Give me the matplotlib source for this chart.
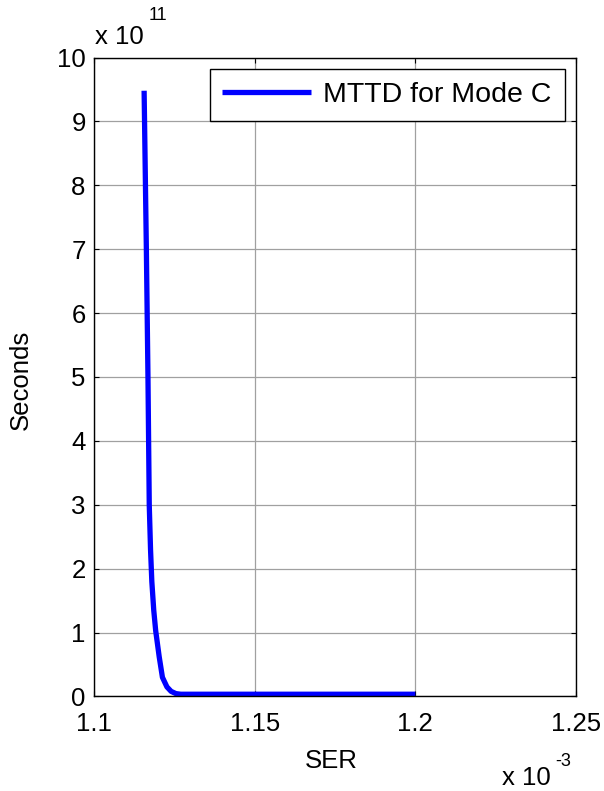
import matplotlib
matplotlib.use("Agg")
import matplotlib.pyplot as plt

# SER in units of 1e-3, MTTD in units of 1e11 seconds
ser = [1.1156, 1.1163, 1.1168, 1.1172, 1.1176, 1.1180, 1.1186, 1.1192,
       1.1203, 1.1213, 1.1227, 1.1240, 1.1255, 1.1270, 1.1300, 1.1500,
       1.1800, 1.2000]
mttd = [9.48, 7.0, 5.0, 3.0, 2.3, 1.8, 1.35, 1.03,
        0.62, 0.30, 0.15, 0.08, 0.045, 0.035, 0.035, 0.035,
        0.035, 0.035]

x_ticks = [1.1, 1.15, 1.2, 1.25]
x_tick_labels = ["1.1", "1.15", "1.2", "1.25"]
y_ticks = list(range(0, 11))
y_tick_labels = [str(v) for v in y_ticks]

plt.rcParams["font.family"] = ["Liberation Sans", "DejaVu Sans"]
FS = 18.5

fig = plt.figure(figsize=(6.04, 7.91), dpi=100)
ax = fig.add_axes([0.1556, 0.1195, 0.798, 0.8078])

ax.plot(ser, mttd, color="#0000ff", lw=3.8, label="MTTD for Mode C",
        solid_capstyle="butt", solid_joinstyle="round")

ax.set_xlim(1.1, 1.25)
ax.set_ylim(0, 10)
ax.set_xticks(x_ticks)
ax.set_xticklabels(x_tick_labels)
ax.set_yticks(y_ticks)
ax.set_yticklabels(y_tick_labels)
ax.grid(True, color="#a0a0a0", lw=0.9)
ax.set_axisbelow(True)
ax.tick_params(direction="in", length=3.5, width=0.8, top=True, right=True,
               labelsize=FS, colors="black")
ax.tick_params(axis="x", pad=11)
ax.tick_params(axis="y", pad=6)
for s in ax.spines.values():
    s.set_linewidth(1.0)
    s.set_color("black")

leg = ax.legend(loc="upper right", fontsize=20.5, fancybox=False,
                framealpha=1, edgecolor="black", handlelength=3.1,
                borderaxespad=0.4, borderpad=0.45, handletextpad=0.45)
leg.get_frame().set_linewidth(1.0)

fig.text(21 / 604, 1 - 380 / 791, "Seconds", rotation=90, fontsize=FS,
         ha="center", va="center")
fig.text(331 / 604, 1 - 761 / 791, "SER", fontsize=FS,
         ha="center", va="center")

# exponent annotations, MATLAB style
fig.text(95 / 604, 1 - 37 / 791, "x 10", fontsize=FS, ha="left", va="center")
fig.text(149 / 604, 1 - 15 / 791, "11", fontsize=13, ha="left", va="center")
fig.text(502 / 604, 1 - 778 / 791, "x 10", fontsize=FS, ha="left", va="center")
fig.text(555 / 604, 1 - 761 / 791, "-3", fontsize=13, ha="left", va="center")

fig.savefig("out.png", dpi=100)
